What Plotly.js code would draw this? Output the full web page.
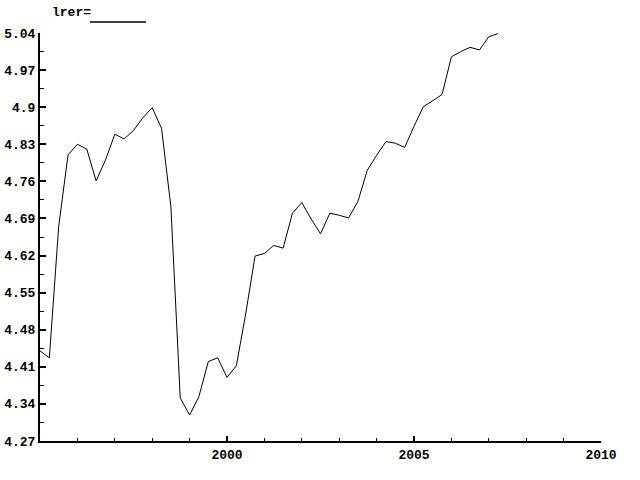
<!DOCTYPE html>
<html>
<head>
<meta charset="utf-8">
<script src="https://cdn.plot.ly/plotly-3.0.1.min.js"></script>
<style>html,body{margin:0;padding:0;background:#fff;}#chart{width:640px;height:480px;}</style>
</head>
<body>
<div id="chart"></div>
<script>
// quarterly dates (decimal years) 1995q1 .. 2007q2
var dates = [1995.00,1995.25,1995.50,1995.75,1996.00,1996.25,1996.50,1996.75,
             1997.00,1997.25,1997.50,1997.75,1998.00,1998.25,1998.50,1998.75,
             1999.00,1999.25,1999.50,1999.75,2000.00,2000.25,2000.50,2000.75,
             2001.00,2001.25,2001.50,2001.75,2002.00,2002.25,2002.50,2002.75,
             2003.00,2003.25,2003.50,2003.75,2004.00,2004.25,2004.50,2004.75,
             2005.00,2005.25,2005.50,2005.75,2006.00,2006.25,2006.50,2006.75,
             2007.00,2007.25];
var lrer = [4.440,4.427,4.675,4.810,4.830,4.821,4.761,4.800,
            4.849,4.840,4.856,4.880,4.899,4.860,4.712,4.351,
            4.319,4.354,4.420,4.427,4.390,4.412,4.510,4.619,
            4.624,4.639,4.634,4.700,4.720,4.689,4.661,4.700,
            4.696,4.691,4.722,4.781,4.809,4.835,4.832,4.824,
            4.864,4.901,4.912,4.924,4.995,5.005,5.013,5.008,
            5.033,5.039];
var yTickVals = [4.27,4.34,4.41,4.48,4.55,4.62,4.69,4.76,4.83,4.90,4.97,5.04];
var yTickText = ["4.27","4.34","4.41","4.48","4.55","4.62","4.69","4.76","4.83","4.9","4.97","5.04"];
var xTickVals = [2000,2005,2010];
var xTickText = ["2000","2005","2010"];
var seriesLabel = "lrer=";

var fontFam = "Liberation Mono, DejaVu Sans Mono, monospace";
var tickFont = {family: fontFam, size: 13, color: "#000", weight: "bold"};

var trace = {
  x: dates, y: lrer, type: "scatter", mode: "lines",
  line: {color: "#000", width: 1}, hoverinfo: "skip", showlegend: false
};

var layout = {
  width: 640, height: 480,
  margin: {l: 40, r: 39, t: 33, b: 39, pad: 0},
  paper_bgcolor: "#fff", plot_bgcolor: "#fff",
  font: tickFont,
  showlegend: false,
  xaxis: {
    range: [1995, 2010], showgrid: false, zeroline: false,
    showline: true, linecolor: "#000", linewidth: 2,
    ticks: "inside", ticklen: 5, tickwidth: 2, tickcolor: "#000",
    tickmode: "array", tickvals: xTickVals, ticktext: xTickText,
    tickfont: tickFont,
    minor: {ticks: "inside", dtick: 1, tick0: 1995, ticklen: 3, tickwidth: 1, tickcolor: "#000", showgrid: false}
  },
  yaxis: {
    range: [4.27, 5.04], showgrid: false, zeroline: false,
    showline: true, linecolor: "#000", linewidth: 2,
    ticks: "inside", ticklen: 6, tickwidth: 2, tickcolor: "#000",
    tickmode: "array", tickvals: yTickVals, ticktext: yTickText,
    tickfont: tickFont,
    minor: {ticks: "inside", dtick: 0.035, tick0: 4.27, ticklen: 4, tickwidth: 1, tickcolor: "#000", showgrid: false}
  },
  annotations: [{
    xref: "paper", yref: "paper", x: 10/561, y: 1 + 11/408,
    xanchor: "left", yanchor: "bottom", showarrow: false,
    text: seriesLabel, font: tickFont
  }],
  shapes: [{
    type: "line", xref: "paper", yref: "paper",
    x0: 50/561, x1: 106/561, y0: 1 + 11/408, y1: 1 + 11/408,
    line: {color: "#000", width: 1.5}
  }]
};

Plotly.newPlot("chart", [trace], layout, {displayModeBar: false, staticPlot: true});
</script>
</body>
</html>
